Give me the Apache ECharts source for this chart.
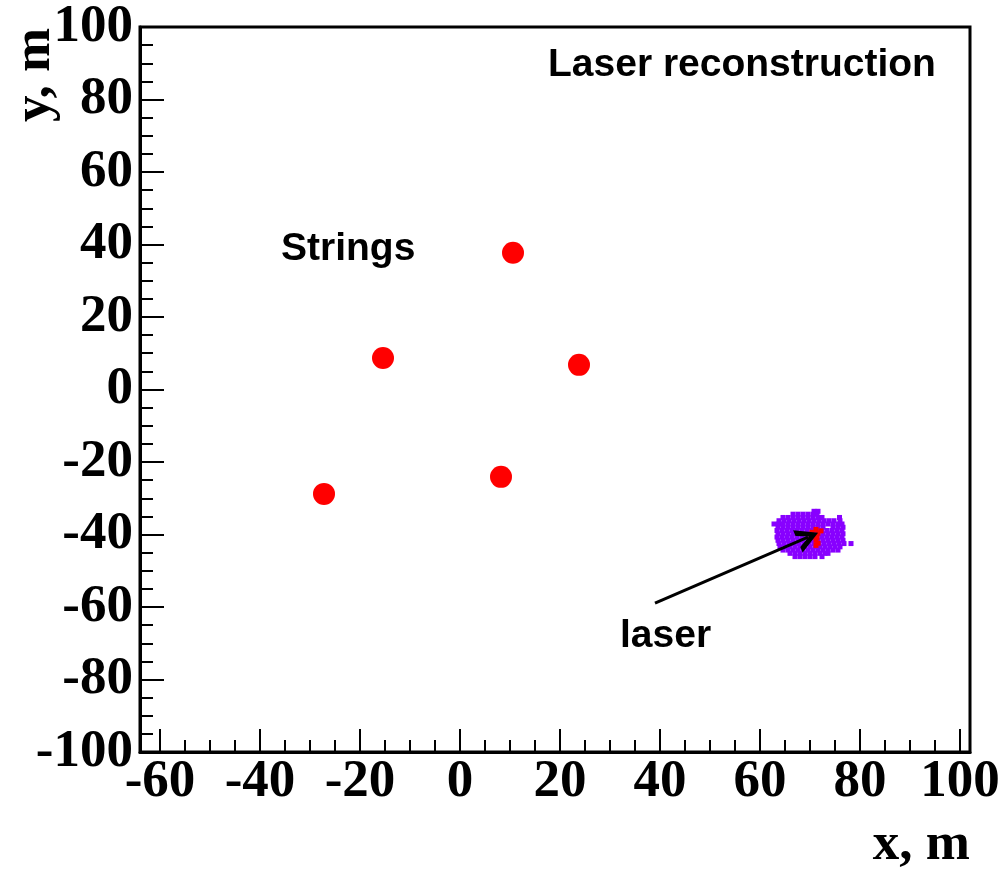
<!DOCTYPE html>
<html><head><meta charset="utf-8">
<script src="https://cdn.jsdelivr.net/npm/echarts@6/dist/echarts.min.js"></script>
<style>html,body{margin:0;padding:0;background:#fff}#c{width:999px;height:870px}</style>
</head><body><div id="c"></div>
<script>
// ---- data ----
const xRange = [-64, 102];
const yRange = [-100, 100];
const stringX = [10.6, -15.4, 23.8, -27.2, 8.2];
const stringY = [37.7, 8.7, 6.8, -28.8, -24.1];
const clusterRowY = [-33.6, -34.4, -35.3, -36.2, -37.1, -38.0, -38.9, -39.8, -40.7, -41.6, -42.5, -43.4, -44.3, -45.2, -46.1];
const clusterRowX = [
  [70.8, 71.6],
  [66.6, 67.6, 68.6, 69.6, 70.6, 71.4],
  [64.6, 65.6, 66.6, 67.6, 68.6, 69.6, 70.6, 71.6, 72.4, 75.9],
  [63.8, 64.8, 65.8, 66.8, 67.8, 68.8, 69.8, 70.8, 71.8, 72.8, 73.8, 74.8, 76.0],
  [62.8, 63.7, 64.6, 65.6, 66.6, 67.6, 68.6, 69.6, 70.6, 71.6, 72.6, 73.6, 74.6, 75.6, 76.4],
  [63.6, 64.6, 65.6, 66.6, 67.6, 68.6, 69.6, 70.6, 71.6, 72.6, 74.6, 75.6, 76.6],
  [63.4, 64.4, 65.4, 66.4, 67.4, 68.4, 69.4, 70.4, 71.4, 72.4, 73.4, 74.4, 75.4, 76.4],
  [63.6, 64.6, 65.6, 66.6, 67.6, 68.6, 69.6, 70.6, 71.6, 72.6, 73.6, 74.6, 75.6, 76.6],
  [63.4, 64.4, 65.4, 66.4, 67.4, 68.4, 69.4, 70.4, 71.4, 72.4, 73.4, 74.4, 75.4, 76.4],
  [63.6, 64.6, 65.6, 66.6, 67.6, 68.6, 69.6, 70.6, 71.6, 72.6, 73.6, 74.6, 75.6, 76.6],
  [63.8, 64.8, 65.8, 66.8, 67.8, 68.8, 69.8, 70.8, 71.8, 72.8, 73.8, 74.8, 75.8, 76.8, 78.2],
  [64.0, 65.0, 66.0, 67.0, 68.0, 69.0, 70.0, 71.0, 72.0, 73.0, 74.0, 75.0, 76.0],
  [64.6, 65.6, 66.6, 67.6, 68.6, 69.6, 70.6, 71.6, 72.6, 73.6, 74.6, 75.6],
  [66.0, 67.0, 68.0, 69.0, 70.0, 71.0, 72.0, 73.0, 73.6],
  [67.0, 68.0, 69.0, 70.0, 71.0, 72.4]
];
const centerX = [71.2, 70.4, 71.6, 72.2, 70.8, 71.4, 70.2, 71.2, 71.6, 71.2];
const centerY = [-38.6, -39.4, -39.6, -39.0, -40.4, -40.8, -40.8, -41.6, -42.4, -43.0];
const arrowFrom = [39.0, -58.9];
const arrowTo = [69.6, -40.7];
const texts = { title: 'Laser reconstruction', strings: 'Strings', laser: 'laser', xTitle: 'x, m', yTitle: 'y, m' };

// ---- build ----
const stringPts = stringX.map((x, i) => [x, stringY[i]]);
const clusterPts = [];
clusterRowX.forEach((row, i) => row.forEach(x => clusterPts.push([x, clusterRowY[i]])));
const centerPts = centerX.map((x, i) => [x, centerY[i]]);

const serifBold = { color: '#000', fontFamily: 'Liberation Serif', fontWeight: 'bold', fontSize: 53 };
const chart = echarts.init(document.getElementById('c'), null, { renderer: 'canvas' });
chart.setOption({
  animation: false,
  backgroundColor: '#fff',
  grid: { left: 140, right: 29, top: 27, bottom: 118, show: true, borderColor: '#000', borderWidth: 3, containLabel: false, outerBoundsMode: 'none' },
  xAxis: [
    { type: 'value', min: xRange[0], max: xRange[1], minInterval: 20, maxInterval: 20, position: 'bottom',
      axisLine: { show: true, onZero: false, lineStyle: { color: '#000', width: 3 } },
      axisTick: { show: true, inside: true, length: 23, lineStyle: { color: '#000', width: 2 } },
      axisLabel: Object.assign({ show: true, showMinLabel: false, showMaxLabel: false, margin: 4, hideOverlap: false }, serifBold),
      splitLine: { show: false } },
    { type: 'value', min: xRange[0], max: xRange[1], minInterval: 5, maxInterval: 5, position: 'bottom',
      axisLine: { show: false, onZero: false },
      axisTick: { show: true, inside: true, length: 12, lineStyle: { color: '#000', width: 2 } },
      axisLabel: { show: false }, splitLine: { show: false } }
  ],
  yAxis: [
    { type: 'value', min: yRange[0], max: yRange[1], interval: 20, position: 'left',
      axisLine: { show: true, onZero: false, lineStyle: { color: '#000', width: 3 } },
      axisTick: { show: true, inside: true, length: 24, lineStyle: { color: '#000', width: 2 } },
      minorTick: { show: true, splitNumber: 4, length: 13, lineStyle: { color: '#000', width: 2 } },
      axisLabel: Object.assign({ show: true, margin: 7 }, serifBold),
      splitLine: { show: false }, minorSplitLine: { show: false } }
  ],
  series: [
    { type: 'scatter', name: 'strings', data: stringPts, symbol: 'circle', symbolSize: 22,
      itemStyle: { color: '#ff0000', opacity: 1 }, z: 3 },
    { type: 'scatter', name: 'cluster', data: clusterPts, symbol: 'rect', symbolSize: 5,
      itemStyle: { color: '#8800ff', opacity: 1 }, z: 3 },
    { type: 'scatter', name: 'center', data: centerPts, symbol: 'rect', symbolSize: 5,
      itemStyle: { color: '#ff0000', opacity: 1 }, z: 4,
      markLine: { silent: true, symbol: ['none', 'path://M0,20 L10,0 L20,20 L15,20 L10,9 L5,20 Z'], symbolSize: [24, 22],
        label: { show: false }, lineStyle: { color: '#000', width: 3, type: 'solid' },
        data: [[{ coord: arrowFrom }, { coord: arrowTo }]] } }
  ],
  graphic: [
    { type: 'text', x: 548, y: 65, style: { text: texts.title, font: 'bold 39px "Liberation Sans"', fill: '#000', align: 'left', verticalAlign: 'middle' } },
    { type: 'text', x: 281, y: 249, style: { text: texts.strings, font: 'bold 39px "Liberation Sans"', fill: '#000', align: 'left', verticalAlign: 'middle' } },
    { type: 'text', x: 620, y: 636, style: { text: texts.laser, font: 'bold 39px "Liberation Sans"', fill: '#000', align: 'left', verticalAlign: 'middle' } },
    { type: 'text', x: 970, y: 845, style: { text: texts.xTitle, font: 'bold 53px "Liberation Serif"', fill: '#000', align: 'right', verticalAlign: 'middle' } },
    { type: 'text', x: 35, y: 75, rotation: Math.PI / 2, style: { text: texts.yTitle, font: 'bold 53px "Liberation Serif"', fill: '#000', align: 'center', verticalAlign: 'middle' } }
  ]
});
</script>
</body></html>
